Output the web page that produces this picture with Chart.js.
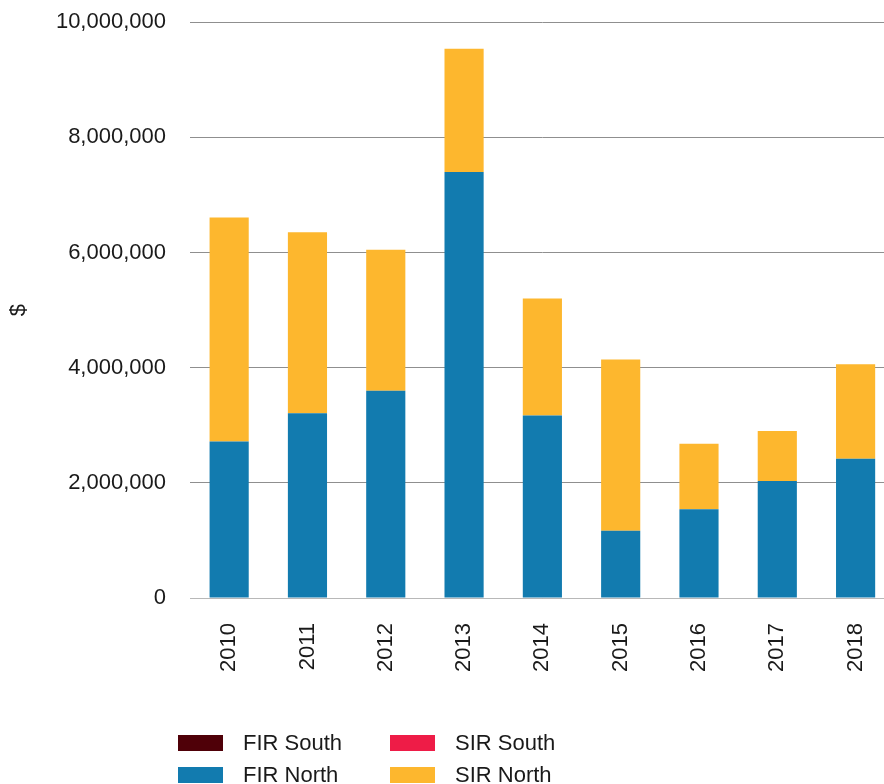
<!DOCTYPE html>
<html>
<head>
<meta charset="utf-8">
<script src="https://cdn.jsdelivr.net/npm/chart.js@4.4.1/dist/chart.umd.min.js"></script>
<style>
  html, body { margin: 0; padding: 0; background: #fff; overflow: hidden; }
  #wrap { position: relative; width: 884px; height: 784px; overflow: hidden; }
  #chart { position: absolute; left: 0; top: -15px; }
  .legend-item { position: absolute; font: 22px "Liberation Sans", Arial, sans-serif; color: #1a1a1a; line-height: 16px; white-space: nowrap; }
  .legend-item span.box { position: absolute; left: 0; top: 0; width: 45px; height: 16px; }
  .legend-item span.label { position: absolute; left: 65px; top: 0; }
</style>
</head>
<body>
<div id="wrap">
  <!-- canvas overhangs the page; the plot area runs past the right edge -->
  <canvas id="chart" width="907" height="799"></canvas>
  <div id="legend"></div>
</div>
<script>
// Yearly amounts ($), stacked per region
const years = ['2010', '2011', '2012', '2013', '2014', '2015', '2016', '2017', '2018'];
const firSouth = [0, 0, 0, 0, 0, 0, 0, 0, 0];
const firNorth = [2720000, 3210000, 3600000, 7400000, 3170000, 1170000, 1540000, 2030000, 2420000];
const sirSouth = [0, 0, 0, 0, 0, 0, 0, 0, 0];
const sirNorth = [3890000, 3140000, 2450000, 2140000, 2030000, 2970000, 1140000, 870000, 1640000];
const yTicks = [0, 2000000, 4000000, 6000000, 8000000, 10000000];

const colors = {
  firSouth: '#4f0008',
  firNorth: '#127baf',
  sirSouth: '#ee1c47',
  sirNorth: '#fdb72e'
};

const textColor = '#1a1a1a';
const font = { family: '"Liberation Sans", Arial, sans-serif', size: 22 };

new Chart(document.getElementById('chart').getContext('2d'), {
  type: 'bar',
  data: {
    labels: years,
    datasets: [
      { label: 'FIR South', data: firSouth, backgroundColor: colors.firSouth },
      { label: 'FIR North', data: firNorth, backgroundColor: colors.firNorth },
      { label: 'SIR South', data: sirSouth, backgroundColor: colors.sirSouth },
      { label: 'SIR North', data: sirNorth, backgroundColor: colors.sirNorth }
    ]
  },
  options: {
    responsive: false,
    animation: false,
    categoryPercentage: 1,
    barPercentage: 0.5,
    layout: { padding: { top: 7, right: 0, bottom: 0, left: 0 } },
    scales: {
      x: {
        stacked: true,
        grid: { display: false, drawTicks: false },
        border: { display: true, color: '#b8b8b8', width: 1 },
        ticks: {
          color: textColor,
          font: font,
          minRotation: 90,
          maxRotation: 90,
          padding: 25
        },
        afterFit: scale => { scale.height = 186; }
      },
      y: {
        stacked: true,
        min: 0,
        max: 10000000,
        afterBuildTicks: scale => { scale.ticks = yTicks.map(v => ({ value: v })); },
        grid: { color: '#8f8f8f', lineWidth: 1, drawTicks: false },
        border: { display: false },
        ticks: {
          color: textColor,
          font: font,
          padding: 24,
          callback: v => v.toLocaleString('en-US')
        },
        title: {
          display: true,
          text: '$',
          color: textColor,
          font: font,
          padding: { top: 6, bottom: 0 }
        },
        afterFit: scale => { scale.width = 190; }
      }
    },
    plugins: {
      legend: { display: false },
      tooltip: { enabled: false }
    }
  }
});

// Two-column legend under the chart
const legendItems = [
  { label: 'FIR South', color: colors.firSouth, x: 178, y: 735 },
  { label: 'SIR South', color: colors.sirSouth, x: 390, y: 735 },
  { label: 'FIR North', color: colors.firNorth, x: 178, y: 767 },
  { label: 'SIR North', color: colors.sirNorth, x: 390, y: 767 }
];

document.getElementById('legend').innerHTML = legendItems.map(item => `
  <div class="legend-item" style="left:${item.x}px; top:${item.y}px;">
    <span class="box" style="background:${item.color}"></span>
    <span class="label">${item.label}</span>
  </div>
`).join('');
</script>
</body>
</html>
